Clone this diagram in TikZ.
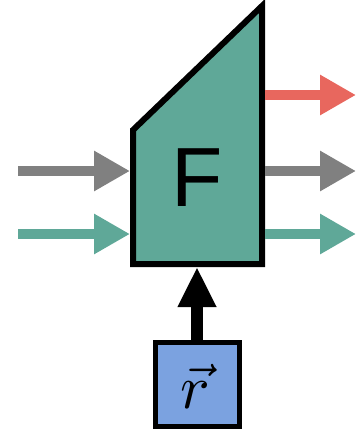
\documentclass[tikz,border=0pt]{standalone}
\usepackage{fontspec}
\setsansfont{Liberation Sans}
\usetikzlibrary{arrows.meta}
\definecolor{tealF}{HTML}{5FA898}
\definecolor{grayA}{HTML}{808080}
\definecolor{redA}{HTML}{E8675E}
\definecolor{blueR}{HTML}{7BA2E0}
\begin{document}
\begin{tikzpicture}[x=1pt,y=-1pt,
  flow/.style={line width=10pt,-{Triangle[length=36pt,width=38pt]}},
  ctrl/.style={line width=12pt,-{Triangle[length=40pt,width=36pt]}},
]
\useasboundingbox (0,0) rectangle (357,433);
% F block
\draw[fill=tealF,line width=6pt,line join=miter] (133,130) -- (262,6) -- (262,264) -- (133,264) -- cycle;
\node[font=\sffamily\fontsize{84}{84}\selectfont,inner sep=0pt] (F) at (197,178) {F};
\coordinate (Fl1) at (130,171);
\coordinate (Fl2) at (130,234);
\coordinate (Fr1) at (265,95);
\coordinate (Fr2) at (265,171);
\coordinate (Fr3) at (265,234);
\coordinate (Fb) at (197,267);
\coordinate (inA) at (18,171);
\coordinate (inB) at (18,234);
\coordinate (outA) at (356,95);
\coordinate (outB) at (356,171);
\coordinate (outC) at (356,234);
% r box
\node[draw,fill=blueR,line width=5pt,minimum width=84pt,minimum height=84pt,inner sep=0pt] (r) at (197,384.5) {};
\node[inner sep=0pt] (rlab) at (195,386) {\scalebox{6.2}{$\vec{r}$}};
% arrows
\draw[flow,grayA] (inA) -- (Fl1);
\draw[flow,tealF] (inB) -- (Fl2);
\draw[flow,redA] (Fr1) -- (outA);
\draw[flow,grayA] (Fr2) -- (outB);
\draw[flow,tealF] (Fr3) -- (outC);
\draw[ctrl,black] (r.north) -- (Fb);
\end{tikzpicture}
\end{document}
